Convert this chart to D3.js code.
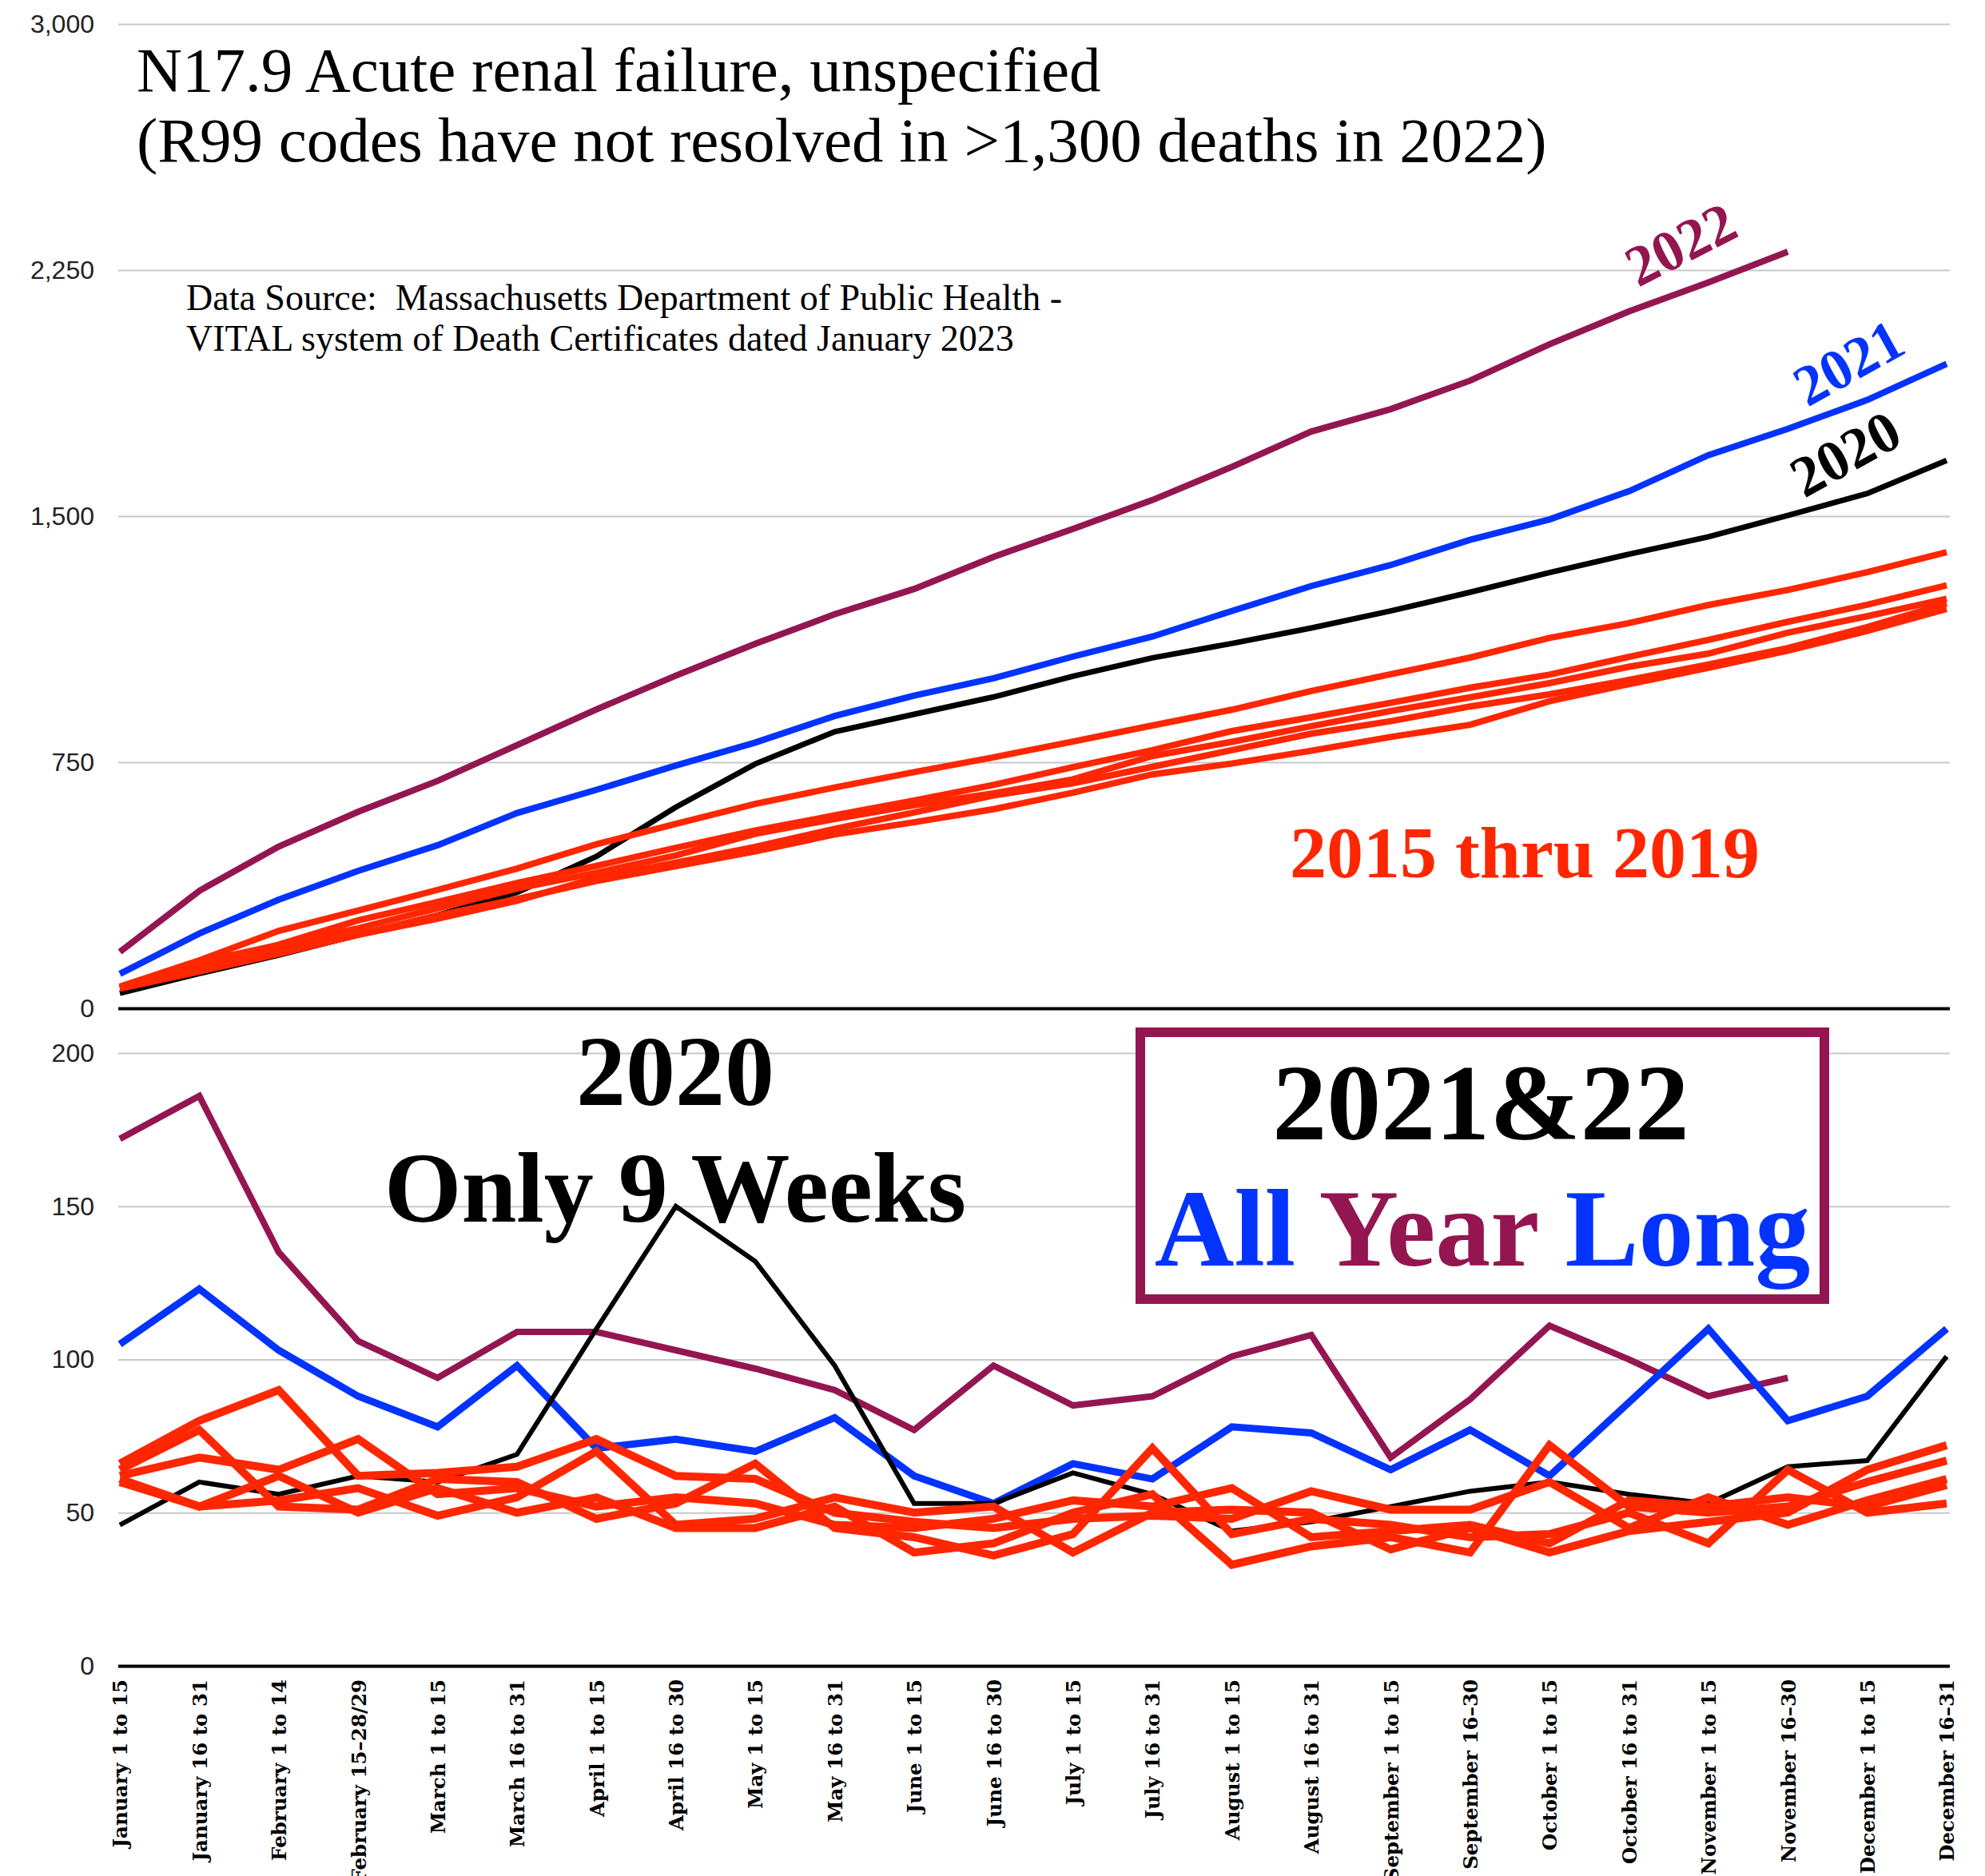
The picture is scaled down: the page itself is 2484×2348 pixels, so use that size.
<!DOCTYPE html>
<html lang="en">
<head>
<meta charset="UTF-8">
<title>N17.9 Acute renal failure, unspecified</title>
<style>
  body { margin: 0; background: #fff; }
  svg { display: block; }
  .axis .domain { display: none; }
  .grid line { stroke: #c8c8c8; stroke-width: 2px; }
  .grid text { font-family: "Liberation Sans", Arial, sans-serif; font-size: 32px; fill: #222; }
  .xlab text { font-family: "DejaVu Serif", serif; font-weight: bold; font-size: 24.5px; fill: #000; }
  .serif { font-family: "Liberation Serif", "Times New Roman", serif; }
  .bold { font-weight: bold; }
</style>
</head>
<body>
<div id="chart"></div>
<script src="https://cdn.jsdelivr.net/npm/d3@7/dist/d3.min.js"></script>
<script>
// half-month periods on the x axis
const periods = [
  "January 1 to 15", "January 16 to 31", "February 1 to 14", "February 15\u201328/29",
  "March 1 to 15", "March 16 to 31", "April 1 to 15", "April 16 to 30",
  "May 1 to 15", "May 16 to 31", "June 1 to 15", "June 16 to 30",
  "July 1 to 15", "July 16 to 31", "August 1 to 15", "August 16 to 31",
  "September 1 to 15", "September 16\u201330", "October 1 to 15", "October 16 to 31",
  "November 1 to 15", "November 16\u201330", "December 1 to 15", "December 16\u201331"
];

// deaths per half month (bottom panel)
const per2020 = [46, 60, 56, 62, 60, 69, 110, 150, 132, 98, 53, 53, 63, 56, 44, 47, 52, 57, 60, 56, 53, 65, 67, 101];
const per2021 = [105, 123, 103, 88, 78, 98, 71, 74, 70, 81, 62, 53, 66, 61, 78, 76, 64, 77, 62, 86, 110, 80, 88, 110];
const per2022 = [172, 186, 135, 106, 94, 109, 109, 103, 97, 90, 77, 98, 85, 88, 101, 108, 68, 87, 111, 100, 88, 94];
const per2015 = [66, 80, 90, 62, 63, 65, 74, 62, 61, 50, 47, 45, 48, 49, 48, 57, 51, 51, 60, 45, 55, 46, 54, 61];
const per2016 = [62, 68, 64, 74, 56, 58, 52, 55, 53, 46, 45, 48, 54, 52, 58, 42, 44, 46, 40, 54, 52, 55, 52, 59];
const per2017 = [64, 77, 52, 51, 61, 60, 48, 53, 66, 45, 42, 36, 43, 71, 43, 48, 46, 42, 43, 50, 40, 64, 50, 53];
const per2018 = [60, 52, 54, 58, 49, 55, 70, 46, 48, 55, 50, 52, 37, 50, 51, 50, 38, 45, 37, 44, 47, 50, 64, 72];
const per2019 = [61, 52, 62, 50, 58, 50, 55, 45, 45, 52, 37, 40, 50, 56, 33, 39, 42, 37, 72, 52, 50, 52, 60, 67];

// running totals (top panel)
const cum2020 = [46, 106, 162, 224, 284, 353, 463, 613, 745, 843, 896, 949, 1012, 1068, 1112, 1159, 1211, 1268, 1328, 1384, 1437, 1502, 1569, 1670];
const cum2021 = [105, 228, 331, 419, 497, 595, 666, 740, 810, 891, 953, 1006, 1072, 1133, 1211, 1287, 1351, 1428, 1490, 1576, 1686, 1766, 1854, 1964];
const cum2022 = [172, 358, 493, 599, 693, 802, 911, 1014, 1111, 1201, 1278, 1376, 1461, 1549, 1650, 1758, 1826, 1913, 2024, 2124, 2212, 2306];
const cum2015 = [66, 146, 236, 298, 361, 426, 500, 562, 623, 673, 720, 765, 813, 862, 910, 967, 1018, 1069, 1129, 1174, 1229, 1275, 1329, 1390];
const cum2016 = [62, 130, 194, 268, 324, 382, 434, 489, 542, 588, 633, 681, 735, 787, 845, 887, 931, 977, 1017, 1071, 1123, 1178, 1230, 1289];
const cum2017 = [64, 141, 193, 244, 305, 365, 413, 466, 532, 577, 619, 655, 698, 769, 812, 860, 906, 948, 991, 1041, 1081, 1145, 1195, 1248];
const cum2018 = [60, 112, 166, 224, 273, 328, 398, 444, 492, 547, 597, 649, 686, 736, 787, 837, 875, 920, 957, 1001, 1048, 1098, 1162, 1234];
const cum2019 = [61, 113, 175, 225, 283, 333, 388, 433, 478, 530, 567, 607, 657, 713, 746, 785, 827, 864, 936, 988, 1038, 1090, 1150, 1217];

const topTicks = [0, 750, 1500, 2250, 3000];
const bottomTicks = [0, 50, 100, 150, 200];

const RED = "#ff2600", BLUE = "#0433ff", PLUM = "#941651", BLACK = "#000000";

const W = 2484, H = 2348;
const left = 148, right = 2440;

const svg = d3.select("#chart").append("svg")
    .attr("width", W)
    .attr("height", H);

const x = d3.scalePoint().domain(periods).range([150, 2436]);
const yTop = d3.scaleLinear().domain([0, 3000]).range([1262, 30]);
const yBot = d3.scaleLinear().domain([0, 200]).range([2085, 1318]);

function grid(scale, ticks, fmt) {
    const g = svg.append("g")
        .attr("class", "axis grid")
        .attr("transform", `translate(${left},0)`)
        .call(d3.axisLeft(scale).tickValues(ticks).tickSize(-(right - left)).tickPadding(30).tickFormat(fmt));
    g.selectAll(".tick line")
        .filter(d => d === 0)
        .style("stroke", "#000")
        .style("stroke-width", "4px");
    return g;
}

grid(yTop, topTicks, d3.format(","));
grid(yBot, bottomTicks, d3.format("d"));

// period labels under the bottom panel
const xg = svg.append("g")
    .attr("class", "axis xlab")
    .attr("transform", `translate(0,${yBot(0)})`)
    .call(d3.axisBottom(x).tickSize(0));
xg.selectAll("text")
    .attr("transform", "rotate(-90)")
    .attr("x", -17)
    .attr("y", 0)
    .attr("dy", "0.36em")
    .attr("text-anchor", "end");

function drawLine(values, yScale, color, width) {
    const line = d3.line()
        .x((d, i) => x(periods[i]))
        .y(d => yScale(d));
    svg.append("path")
        .datum(values)
        .attr("d", line)
        .attr("fill", "none")
        .attr("stroke", color)
        .attr("stroke-width", width)
        .attr("stroke-linejoin", "miter")
        .attr("stroke-miterlimit", 4);
}

// top panel: running totals
drawLine(cum2022, yTop, PLUM, 8);
drawLine(cum2021, yTop, BLUE, 8);
drawLine(cum2020, yTop, BLACK, 7);
[cum2015, cum2016, cum2017, cum2018, cum2019].forEach(s => drawLine(s, yTop, RED, 8));

// bottom panel: half-month counts
drawLine(per2022, yBot, PLUM, 8);
drawLine(per2021, yBot, BLUE, 9);
drawLine(per2020, yBot, BLACK, 6);
[per2015, per2016, per2017, per2018, per2019].forEach(s => drawLine(s, yBot, RED, 10));

// titles
svg.append("text").attr("class", "serif")
    .attr("x", 171).attr("y", 114)
    .style("font-size", "79px")
    .text("N17.9 Acute renal failure, unspecified");
svg.append("text").attr("class", "serif")
    .attr("x", 171).attr("y", 202)
    .style("font-size", "79px")
    .text("(R99 codes have not resolved in >1,300 deaths in 2022)");

svg.append("text").attr("class", "serif")
    .attr("x", 233).attr("y", 388)
    .style("font-size", "46px")
    .style("white-space", "pre")
    .text("Data Source:  Massachusetts Department of Public Health -");
svg.append("text").attr("class", "serif")
    .attr("x", 233).attr("y", 439)
    .style("font-size", "46px")
    .text("VITAL system of Death Certificates dated January 2023");

// year labels by the running totals
const yearLabels = [
    { text: "2022", color: PLUM, x: 2050, y: 360, angle: -27 },
    { text: "2021", color: BLUE, x: 2262, y: 510, angle: -29 },
    { text: "2020", color: BLACK, x: 2258, y: 624, angle: -29 }
];
yearLabels.forEach(l => {
    svg.append("text").attr("class", "serif bold")
        .attr("transform", `translate(${l.x},${l.y}) rotate(${l.angle})`)
        .style("font-size", "72px")
        .attr("fill", l.color)
        .text(l.text);
});

svg.append("text").attr("class", "serif bold")
    .attr("x", 1908).attr("y", 1098)
    .attr("text-anchor", "middle")
    .style("font-size", "92px")
    .attr("fill", RED)
    .text("2015 thru 2019");

// bottom panel notes
svg.append("text").attr("class", "serif bold")
    .attr("x", 845).attr("y", 1383)
    .attr("text-anchor", "middle")
    .style("font-size", "124px")
    .text("2020");
svg.append("text").attr("class", "serif bold")
    .attr("x", 845).attr("y", 1529)
    .attr("text-anchor", "middle")
    .style("font-size", "124px")
    .text("Only 9 Weeks");

svg.append("rect")
    .attr("x", 1427).attr("y", 1292)
    .attr("width", 856).attr("height", 334)
    .attr("fill", "#fff")
    .attr("stroke", PLUM)
    .attr("stroke-width", 12);

svg.append("text").attr("class", "serif bold")
    .attr("x", 1853).attr("y", 1426)
    .attr("text-anchor", "middle")
    .style("font-size", "136px")
    .text("2021&22");

const all = svg.append("text").attr("class", "serif bold")
    .attr("x", 1855).attr("y", 1584)
    .attr("text-anchor", "middle")
    .style("font-size", "138px");
all.append("tspan").attr("fill", BLUE).text("All ");
all.append("tspan").attr("fill", PLUM).text("Year ");
all.append("tspan").attr("fill", BLUE).text("Long");
</script>
</body>
</html>
